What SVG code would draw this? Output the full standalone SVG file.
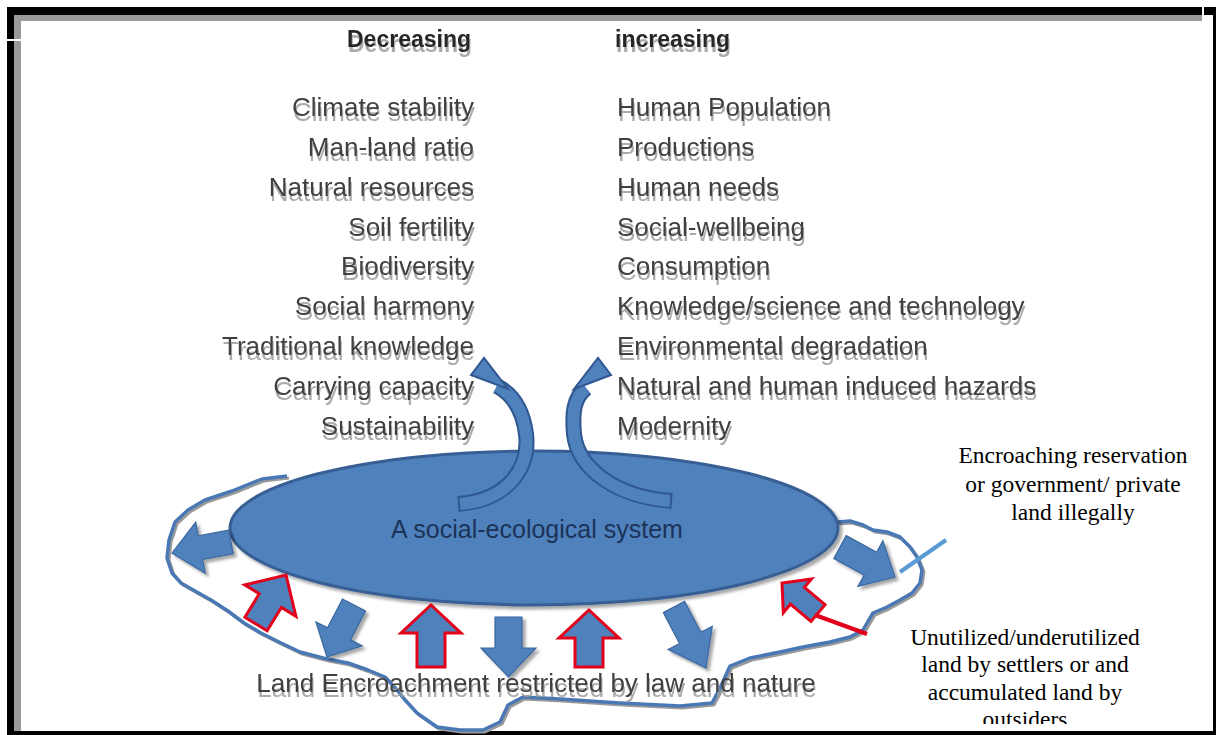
<svg xmlns="http://www.w3.org/2000/svg" width="1216" height="735" viewBox="0 0 1216 735">
<style>
.lst{font-family:"Liberation Sans",Arial,sans-serif;font-size:26px;fill:#3f3f3f}
.hdr{font-family:"Liberation Sans",Arial,sans-serif;font-size:23px;font-weight:bold;fill:#262626}
.sys{font-family:"Liberation Sans",Arial,sans-serif;font-size:25px;fill:#1c3358}
.call{font-family:"Liberation Serif","Times New Roman",serif;font-size:23.5px;fill:#000}
.blk{fill:#4f81bd;stroke:#3a679f;stroke-width:1.2;stroke-linejoin:miter}
.red{fill:#4f81bd;stroke:#e2001a;stroke-width:3;stroke-linejoin:miter}
.cshaft-o{fill:none;stroke:#2f5790;stroke-width:16}
.cshaft{fill:none;stroke:#4f81bd;stroke-width:12}
.chead{fill:#4f81bd;stroke:#2f5790;stroke-width:2;stroke-linejoin:miter}
</style>
<defs>
<filter id="tsh" x="-5%" y="-30%" width="112%" height="180%">
<feOffset in="SourceAlpha" dx="1" dy="5" result="o"/>
<feGaussianBlur in="o" stdDeviation="0.7" result="b"/>
<feFlood flood-color="#9c9c9c" flood-opacity="0.85"/>
<feComposite in2="b" operator="in" result="s"/>
<feMerge><feMergeNode in="s"/><feMergeNode in="SourceGraphic"/></feMerge>
</filter>
<filter id="dsh" x="-20%" y="-20%" width="150%" height="150%">
<feDropShadow dx="3" dy="3" stdDeviation="1.5" flood-color="#000" flood-opacity="0.35"/>
</filter>
<clipPath id="clipOut"><rect x="880" y="600" width="330" height="124"/></clipPath>
</defs>
<rect width="1216" height="735" fill="#fff"/>

<g id="frame">
<rect x="7" y="7" width="1195" height="8" fill="#000"/>
<rect x="1204" y="7" width="12" height="8" fill="#000"/>
<rect x="14" y="15" width="1188" height="6" fill="#9a9a9a"/>
<rect x="7" y="7" width="7" height="728" fill="#000"/>
<rect x="14" y="15" width="7" height="720" fill="#9a9a9a"/>
<rect x="7" y="39" width="14" height="2" fill="#fff"/>
<rect x="1213" y="15" width="3" height="720" fill="#000"/>
<rect x="7" y="731" width="1209" height="4" fill="#000"/>
</g>

<g id="decreasing" filter="url(#tsh)" text-anchor="end">
<text class="hdr" x="471" y="47">Decreasing</text>
<text class="lst" x="474" y="116">Climate stability</text>
<text class="lst" x="474" y="156">Man-land ratio</text>
<text class="lst" x="474" y="196">Natural resources</text>
<text class="lst" x="474" y="236">Soil fertility</text>
<text class="lst" x="474" y="275">Biodiversity</text>
<text class="lst" x="474" y="315">Social harmony</text>
<text class="lst" x="474" y="355">Traditional knowledge</text>
<text class="lst" x="474" y="395">Carrying capacity</text>
<text class="lst" x="474" y="435">Sustainability</text>
</g>

<g id="increasing" filter="url(#tsh)">
<text class="hdr" x="615" y="47">increasing</text>
<text class="lst" x="617" y="116">Human Population</text>
<text class="lst" x="617" y="156">Productions</text>
<text class="lst" x="617" y="196">Human needs</text>
<text class="lst" x="617" y="236">Social-wellbeing</text>
<text class="lst" x="617" y="275">Consumption</text>
<text class="lst" x="617" y="315">Knowledge/science and technology</text>
<text class="lst" x="617" y="355">Environmental degradation</text>
<text class="lst" x="617" y="395">Natural and human induced hazards</text>
<text class="lst" x="617" y="435">Modernity</text>
</g>

<g id="boundary">
<polyline transform="translate(2,2)" fill="none" stroke="#9a9a9a" stroke-width="3" stroke-linejoin="round" points="287,476 262,479 232,491 205,500 188,510 175,522 169,540 167,558 172,573 181,583 195,591 211,600 228,611 244,623 261,633 281,643 300,652 327,659 348,663 368,670 385,677 397,690 405,700 417,713 437,727 460,730 483,730 500,722 508,705 523,697 560,699 620,703 680,706 712,703 720,688 730,666 750,658 780,652 803,647 830,642 850,637 863,630 867,623 873,613 887,607 900,600 912,593 920,583 922,570 917,557 910,547 900,537 887,532 873,530 863,525 850,521 837,522"/>
<polyline fill="none" stroke="#4a78b5" stroke-width="3.5" stroke-linejoin="round" points="287,476 262,479 232,491 205,500 188,510 175,522 169,540 167,558 172,573 181,583 195,591 211,600 228,611 244,623 261,633 281,643 300,652 327,659 348,663 368,670 385,677 397,690 405,700 417,713 437,727 460,730 483,730 500,722 508,705 523,697 560,699 620,703 680,706 712,703 720,688 730,666 750,658 780,652 803,647 830,642 850,637 863,630 867,623 873,613 887,607 900,600 912,593 920,583 922,570 917,557 910,547 900,537 887,532 873,530 863,525 850,521 837,522"/>
</g>

<g id="land-text" filter="url(#tsh)">
<text class="lst" x="536" y="692" text-anchor="middle">Land Encroachment restricted by law and nature</text>
</g>

<g id="system">
<ellipse cx="534" cy="528" rx="304" ry="77" fill="#4f81bd" stroke="#385f94" stroke-width="3" filter="url(#dsh)"/>
<text class="sys" x="537" y="538" text-anchor="middle">A social-ecological system</text>
</g>

<g id="connectors">
<g id="curved-arrows">
<path class="cshaft-o" d="M458 504 C508 500 530 468 526 434 C523 410 512 394 497 386"/>
<path class="cshaft" d="M460 504 C508 500 530 468 526 434 C523 410 512 394 497 386"/>
<polygon class="chead" points="471,375 484,358 508,389"/>
<path class="cshaft-o" d="M672 501 C618 497 578 470 574 434 C572 412 574 398 586 388"/>
<path class="cshaft" d="M670 501 C618 497 578 470 574 434 C572 412 574 398 586 388"/>
<polygon class="chead" points="611,375 598,358 574,389"/>
</g>
<g id="out-arrows" filter="url(#dsh)">
<polygon class="blk" points="228.8,530.2 198.3,535.9 195.7,522.1 172,553 205.3,573.3 202.7,559.5 233.2,553.8"/>
<polygon class="blk" points="342.5,599 327.5,627.9 315.9,621.9 327,657 362.1,645.9 350.5,639.9 365.5,611"/>
<polygon class="blk" points="495,617 495,648 481,648 508.5,677 536,648 522,648 522,617"/>
<polygon class="blk" points="663.4,612.6 679.6,643.5 668.1,649.5 706,668 712.3,626.3 700.8,632.3 684.6,601.4"/>
<polygon class="blk" points="833.8,558.4 864.2,575 857.9,586.4 895,577 882.9,540.8 876.6,552.2 846.2,535.6"/>
</g>
<g id="in-arrows">
<polygon class="red" points="267.1,630.8 281.4,607.4 295.9,616.3 286,575 244.7,584.9 259.2,593.8 244.9,617.2"/>
<polygon class="red" points="417,667 417,633 401,633 431,605 461,633 445,633 445,667"/>
<polygon class="red" points="575,667 575,638 559,638 589,610 619,638 603,638 603,667"/>
<polygon class="red" points="825,604.6 804.4,587.4 811.5,578.9 782,583 783.3,612.7 790.4,604.2 811,621.4"/>
<line x1="815" y1="615" x2="867" y2="634" stroke="#e2001a" stroke-width="4"/>
</g>
<line id="callout-line" x1="900" y1="572" x2="946" y2="540" stroke="#5b9bd5" stroke-width="4"/>
</g>

<g id="callout-encroaching" text-anchor="middle">
<text class="call" x="1073" y="463">Encroaching reservation</text>
<text class="call" x="1073" y="492">or government/ private</text>
<text class="call" x="1073" y="520">land illegally</text>
</g>

<g id="callout-unutilized" text-anchor="middle" clip-path="url(#clipOut)">
<text class="call" x="1025" y="645">Unutilized/underutilized</text>
<text class="call" x="1025" y="672">land by settlers or and</text>
<text class="call" x="1025" y="700">accumulated land by</text>
<text class="call" x="1025" y="727">outsiders</text>
</g>
</svg>
